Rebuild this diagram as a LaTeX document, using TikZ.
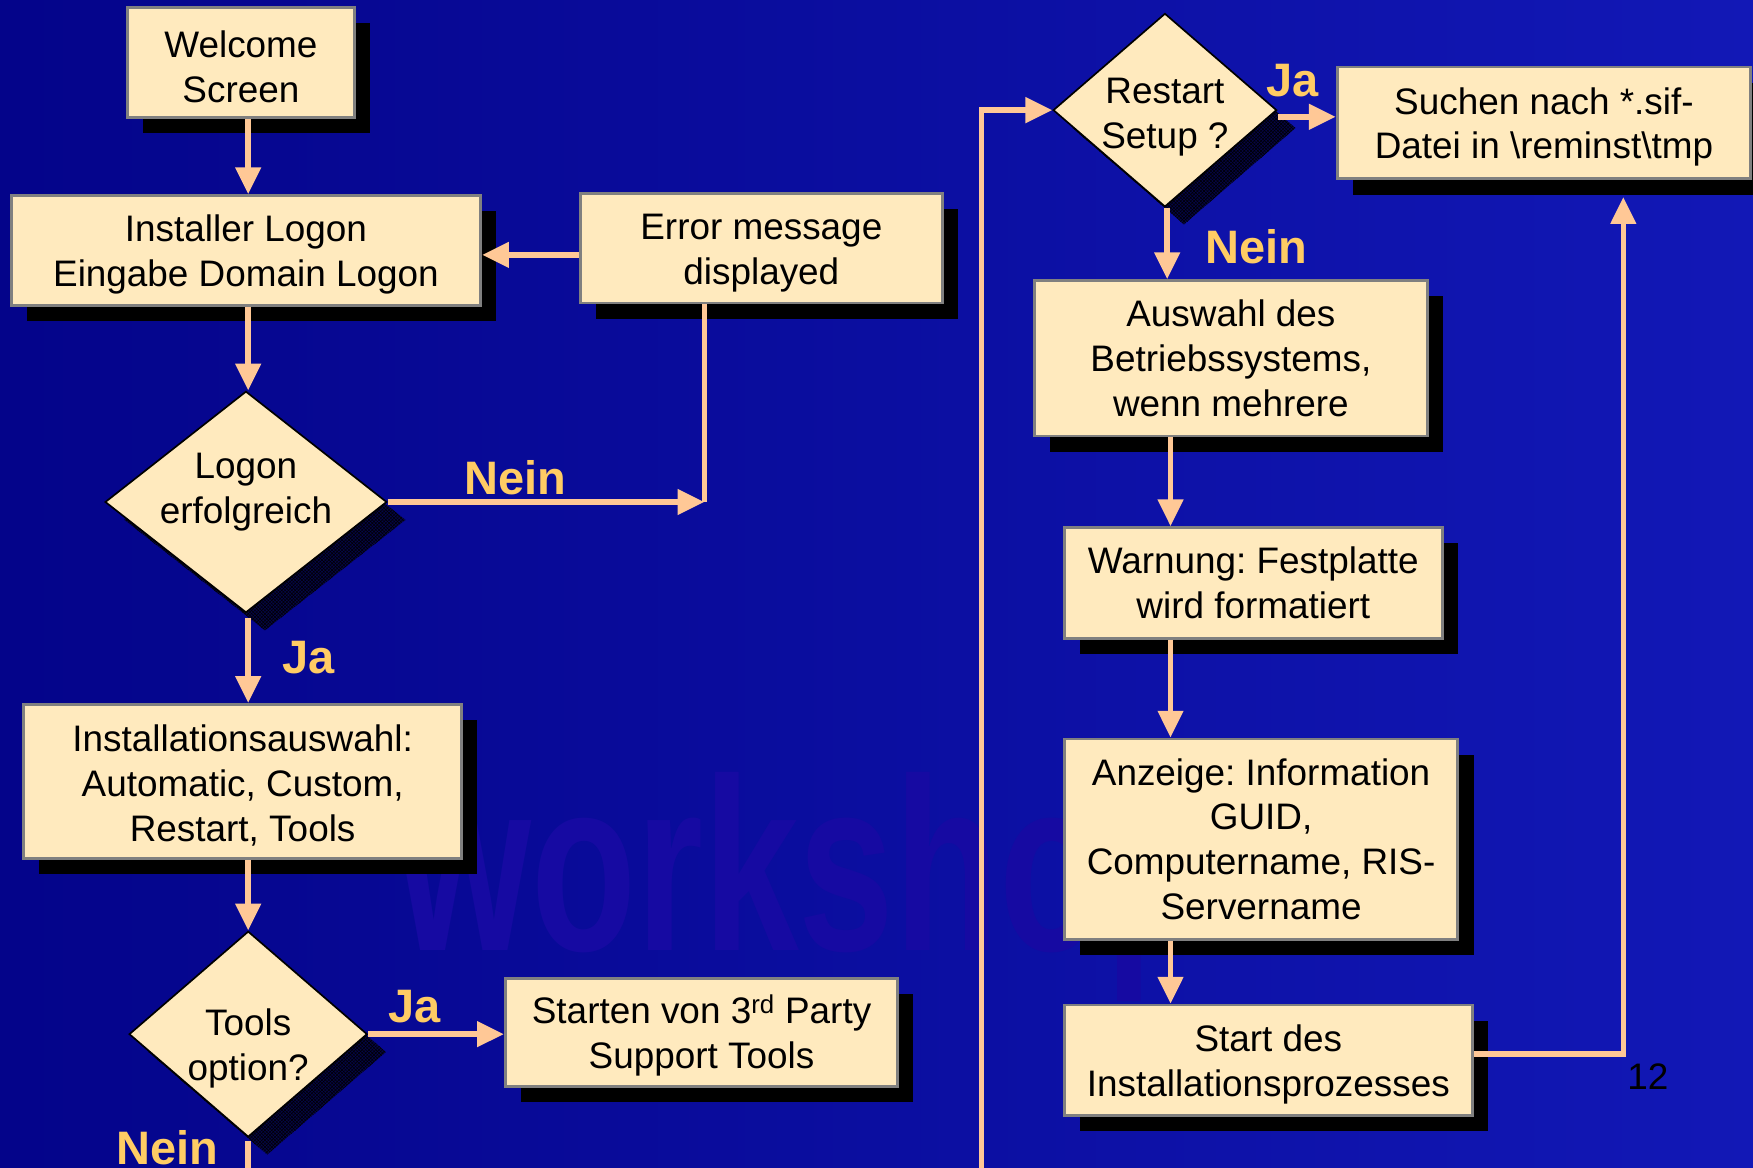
\documentclass[tikz,border=0pt]{standalone}
\usepackage{fontspec}
\usepackage{graphicx}
\setmainfont{Liberation Sans}
\usetikzlibrary{shapes.geometric,arrows.meta,shadows,patterns,calc}
\definecolor{bgL}{RGB}{4,4,138}
\definecolor{bgR}{RGB}{18,24,182}
\definecolor{cream}{RGB}{255,234,190}
\definecolor{boxgray}{RGB}{128,128,128}
\definecolor{peach}{RGB}{255,200,150}
\definecolor{gold}{RGB}{255,204,100}
\definecolor{wmark}{RGB}{22,10,162}
\definecolor{hatchbg}{RGB}{6,6,70}
\newcommand{\tst}{\rule{0pt}{31pt}}
\frenchspacing
\begin{document}
\begin{tikzpicture}[x=1pt,y=-1pt,
  box/.style={rectangle, fill=cream, draw=boxgray, line width=2.5pt, align=center,
    inner sep=0pt, font=\fontsize{33}{40}\selectfont, text=black,
    drop shadow={shadow xshift=14pt, shadow yshift=-14pt, opacity=1, fill=black, draw=none}},
  dia/.style={diamond, fill=cream, draw=black, line width=1.5pt, inner sep=0pt,
    drop shadow={shadow xshift=17pt, shadow yshift=-16pt, opacity=1, fill=hatchbg, draw=none,
      postaction={pattern=crosshatch, pattern color=black}}},
  dtext/.style={align=center, font=\fontsize{33}{40}\selectfont, text=black},
  arr/.style={draw=peach, line width=5pt, -{Triangle[length=24pt,width=22pt]}},
  ln/.style={draw=peach, line width=5pt},
  yes/.style={text=gold, font=\fontsize{42}{48}\selectfont\bfseries}
]
\clip (0,0) rectangle (1568,1044);
\shade[left color=bgL, right color=bgR] (0,0) rectangle (1568,1044);
\node[anchor=base west, text=wmark, inner sep=0pt, font=\fontsize{220}{220}\selectfont\bfseries] (wm) at (355,850) {\scalebox{0.7}[1]{workshop}};

% boxes
\node[box, minimum width=203pt, minimum height=98pt] (welcome) at (215.5,56) {\tst Welcome\\Screen};
\node[box, minimum width=420pt, minimum height=98pt] (installer) at (220,224) {\tst Installer Logon\\Eingabe Domain Logon};
\node[box, minimum width=324pt, minimum height=98pt] (error) at (681,222) {\tst Error message\\displayed};
\node[dia, minimum width=252pt, minimum height=198pt, label={[dtext,yshift=9pt]center:Logon\\erfolgreich}] (logon) at (220,449) {};
\node[box, minimum width=392pt, minimum height=138pt] (inst) at (217,699) {\tst Installationsauswahl:\\Automatic, Custom,\\Restart, Tools};
\node[dia, minimum width=213pt, minimum height=184pt, label={[dtext,yshift=-13pt]center:Tools\\option?}] (tools) at (222,925) {};
\node[box, minimum width=351pt, minimum height=97pt] (starten) at (627.5,923.5) {\tst Starten von 3\textsuperscript{rd} Party\\Support Tools};
\node[dia, minimum width=200pt, minimum height=173pt, label={[dtext,yshift=-6pt]center:Restart\\Setup ?}] (restart) at (1042,98.5) {};
\node[box, minimum width=370pt, minimum height=100pt] (suchen) at (1381,110) {\tst Suchen nach *.sif-\\Datei in \textbackslash{}reminst\textbackslash{}tmp};
\node[box, minimum width=352pt, minimum height=139pt] (auswahl) at (1101,320.5) {Auswahl des\\Betriebssystems,\\wenn mehrere};
\node[box, minimum width=338pt, minimum height=99pt] (warnung) at (1121,521.5) {Warnung: Festplatte\\wird formatiert};
\node[box, minimum width=352pt, minimum height=179pt] (anzeige) at (1128,750.5) {Anzeige: Information\\GUID,\\Computername, RIS-\\Servername};
\node[box, minimum width=365pt, minimum height=99pt] (start) at (1134.5,948.5) {\tst Start des\\Installationsprozesses};
\node[font=\fontsize{33}{40}\selectfont, text=black] (pg) at (1474,963) {12};

% connectors
\coordinate (wx) at (222,0);
\draw[arr] (welcome.south -| wx) -- (installer.north -| wx);
\draw[arr] (installer.south -| wx) -- (logon.north -| wx);
\coordinate (ey) at (0,228);
\draw[arr] (error.west |- ey) -- (installer.east |- ey);
\coordinate (nj) at (630,449);
\draw[ln] (error.south -| nj) -- (nj);
\draw[arr] (logon.east) -- (nj);
\node[yes] (n1) at (461,427) {Nein};
\draw[arr] ([yshift=-4pt]logon.south -| wx) -- (inst.north -| wx);
\node[yes] (j1) at (276,588) {Ja};
\draw[arr] (inst.south -| wx) -- (tools.north -| wx);
\draw[arr] (tools.east) -- (tools.east -| starten.west);
\node[yes] (j2) at (371,900) {Ja};
\draw[ln] ([yshift=-3pt]tools.south) -- (tools.south |- 0,1060);
\node[yes] (n2) at (150,1027) {Nein};
\coordinate (lb) at (878,1060);
\draw[arr] (lb) |- (restart.west);
\coordinate (re) at ([yshift=-6pt]restart.east);
\draw[arr] (re) -- (re -| suchen.west);
\node[yes] (j3) at (1156,72) {Ja};
\coordinate (rx) at (1044,0);
\draw[arr] (restart.south -| rx) -- (auswahl.north -| rx);
\node[yes] (n3) at (1124,221) {Nein};
\coordinate (vx) at (1047,0);
\draw[arr] (auswahl.south -| vx) -- (warnung.north -| vx);
\draw[arr] (warnung.south -| vx) -- (anzeige.north -| vx);
\draw[arr] (anzeige.south -| vx) -- (start.north -| vx);
\coordinate (sx) at (1452,0);
\coordinate (sb) at ([yshift=-15pt]suchen.south);
\coordinate (st) at ([yshift=5.5pt]start.east);
\draw[arr] (st) -| (sb -| sx);
\end{tikzpicture}
\end{document}
